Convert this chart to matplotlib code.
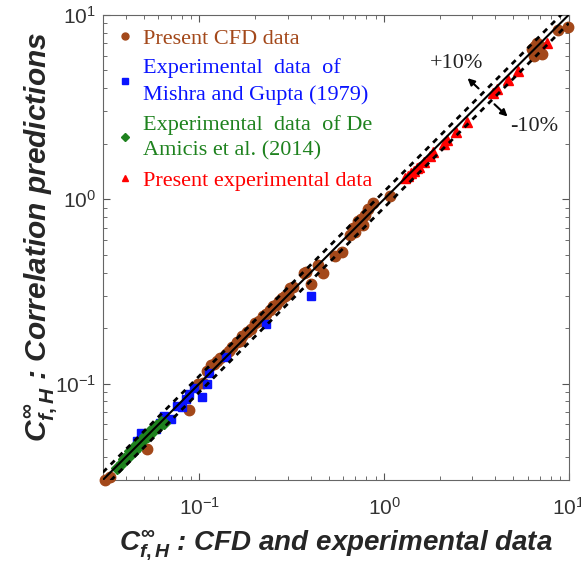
import numpy as np
import matplotlib
matplotlib.use('Agg')
import matplotlib.pyplot as plt
from matplotlib.lines import Line2D

plt.rcParams['font.family'] = ['Liberation Sans', 'DejaVu Sans']
plt.rcParams['mathtext.fontset'] = 'custom'
plt.rcParams['mathtext.it'] = 'Liberation Sans:bold:italic'
plt.rcParams['mathtext.rm'] = 'Liberation Sans:bold'
plt.rcParams['mathtext.bf'] = 'Liberation Sans:bold'

# present CFD data (x: CFD, y: correlation)
cfd_x = [0.031, 0.033, 0.052, 0.088, 0.098, 0.105, 0.11, 0.115, 0.12, 0.125, 0.13,
         0.14, 0.145, 0.15, 0.16, 0.165, 0.17, 0.18, 0.19, 0.2, 0.21, 0.22, 0.23,
         0.24, 0.25, 0.26, 0.27, 0.28, 0.29, 0.3, 0.31, 0.32, 0.37, 0.38, 0.40,
         0.44, 0.466, 0.54, 0.59, 0.65, 0.68, 0.7, 0.72, 0.75, 0.77, 0.79,
         0.82, 0.87, 1.08, 6.3, 6.5, 6.6, 6.7, 6.9, 7.0, 7.2, 8.7, 9.9]
cfd_y = [0.030, 0.031, 0.044, 0.072, 0.100, 0.101, 0.117, 0.126, 0.128, 0.132, 0.138,
         0.145, 0.150, 0.158, 0.168, 0.170, 0.180, 0.190, 0.198, 0.212, 0.218, 0.232, 0.238,
         0.250, 0.262, 0.268, 0.282, 0.290, 0.300, 0.305, 0.330, 0.335, 0.400, 0.405, 0.348,
         0.440, 0.400, 0.490, 0.520, 0.640, 0.700, 0.660, 0.760, 0.780, 0.720, 0.820,
         0.880, 0.950, 1.040, 6.5, 6.0, 6.8, 7.0, 6.3, 6.8, 6.1, 8.3, 8.6]

# Mishra and Gupta (1979)
mg_x = [0.046, 0.048, 0.058, 0.061, 0.064, 0.070, 0.076, 0.080, 0.085, 0.088,
        0.094, 0.103, 0.110, 0.113, 0.140, 0.230, 0.400]
mg_y = [0.049, 0.054, 0.057, 0.061, 0.067, 0.064, 0.076, 0.075, 0.082, 0.088,
        0.095, 0.085, 0.100, 0.114, 0.139, 0.210, 0.300]

# De Amicis et al. (2014)
da_x = [0.036, 0.038, 0.039, 0.041, 0.042, 0.044, 0.045, 0.047, 0.048, 0.050,
        0.051, 0.053, 0.055, 0.056, 0.058, 0.060, 0.062, 0.064]
da_y = [0.035, 0.037, 0.039, 0.040, 0.043, 0.043, 0.046, 0.046, 0.049, 0.050,
        0.052, 0.052, 0.056, 0.055, 0.059, 0.058, 0.062, 0.061]

# present experimental data
ex_x = [1.30, 1.35, 1.40, 1.45, 1.50, 1.55, 1.65, 1.78, 1.85, 2.10, 2.20, 2.45,
        2.80, 3.90, 4.10, 4.70, 5.30, 7.60]
ex_y = [1.30, 1.34, 1.38, 1.42, 1.47, 1.50, 1.60, 1.72, 1.80, 2.00, 2.10, 2.30,
        2.62, 3.75, 3.95, 4.45, 4.95, 7.00]

brown = '#A3481A'
green = '#1E821E'
blue = '#0A14FF'
red = '#FF0000'

fig = plt.figure(figsize=(5.81, 5.68), dpi=100)
ax = fig.add_axes([0.177, 0.155, 0.802, 0.819])
ax.set_xscale('log')
ax.set_yscale('log')
ax.set_xlim(0.03, 10)
ax.set_ylim(0.03, 10)

ref = np.array([0.03, 10])
ax.plot(ref, ref, color='k', lw=1.5, zorder=5)
ax.plot(ref, 1.1 * ref, color='k', lw=2, ls=(0, (2, 2)), zorder=5)
ax.plot(ref, 0.9 * ref, color='k', lw=2, ls=(0, (2, 2)), zorder=5)

ax.plot(cfd_x, cfd_y, 'o', color=brown, ms=7.5, ls='none', zorder=3, clip_on=False)
ax.plot(mg_x, mg_y, 's', color=blue, ms=6, ls='none', zorder=4)
ax.plot(da_x, da_y, 'D', color=green, ms=6.5, ls='none', zorder=4)
ax.plot(ex_x, ex_y, '^', color=red, ms=7.5, ls='none', zorder=4)

labels = ['Present CFD data',
          'Experimental  data  of\nMishra and Gupta (1979)',
          'Experimental  data  of De\nAmicis et al. (2014)',
          'Present experimental data']
hs = [Line2D([], [], marker='o', color=brown, ls='none', ms=5),
      Line2D([], [], marker='s', color=blue, ls='none', ms=4),
      Line2D([], [], marker='D', color=green, ls='none', ms=4),
      Line2D([], [], marker='^', color=red, ls='none', ms=5)]
leg = ax.legend(hs, labels, loc='upper left', bbox_to_anchor=(0.0, 1.005),
                frameon=False, prop={'family': 'Liberation Serif', 'size': 16},
                handlelength=0.6, handletextpad=0.5, labelspacing=0.45,
                borderaxespad=0.3)
for t, c in zip(leg.get_texts(), [brown, blue, green, red]):
    t.set_color(c)
    t.set_linespacing(1.45)

arrow = dict(arrowstyle='-|>', color='k', lw=1.5, mutation_scale=10)
ax.annotate('', xy=(2.76, 4.64), xytext=(3.33, 3.89), arrowprops=arrow)
ax.annotate('', xy=(4.78, 2.74), xytext=(3.86, 3.35), arrowprops=arrow)
ax.text(2.46, 5.47, '+10%', family='Liberation Serif', fontsize=16,
        ha='center', va='center', color='#222222')
ax.text(6.46, 2.47, '-10%', family='Liberation Serif', fontsize=16,
        ha='center', va='center', color='#222222')

ax.tick_params(which='both', direction='in', top=True, right=True,
               colors='#555555', labelcolor='#333333', labelsize=15)
ax.tick_params(which='major', length=5)
ax.tick_params(axis='x', which='major', pad=12)
ax.tick_params(axis='y', which='major', pad=5)
ax.tick_params(which='minor', length=3)
for s in ax.spines.values():
    s.set_color('#666666')

ax.set_xlabel(r'$C^{\infty}_{f,H}$ : CFD and experimental data',
              fontsize=20, fontweight='bold', style='italic', color='#262626', labelpad=7)
ax.set_ylabel(r'$C^{\infty}_{f,H}$ : Correlation predictions',
              fontsize=21.5, fontweight='bold', style='italic', color='#262626')
ax.yaxis.set_label_coords(-0.095, 0.523)

fig.savefig('out.png', dpi=100)
